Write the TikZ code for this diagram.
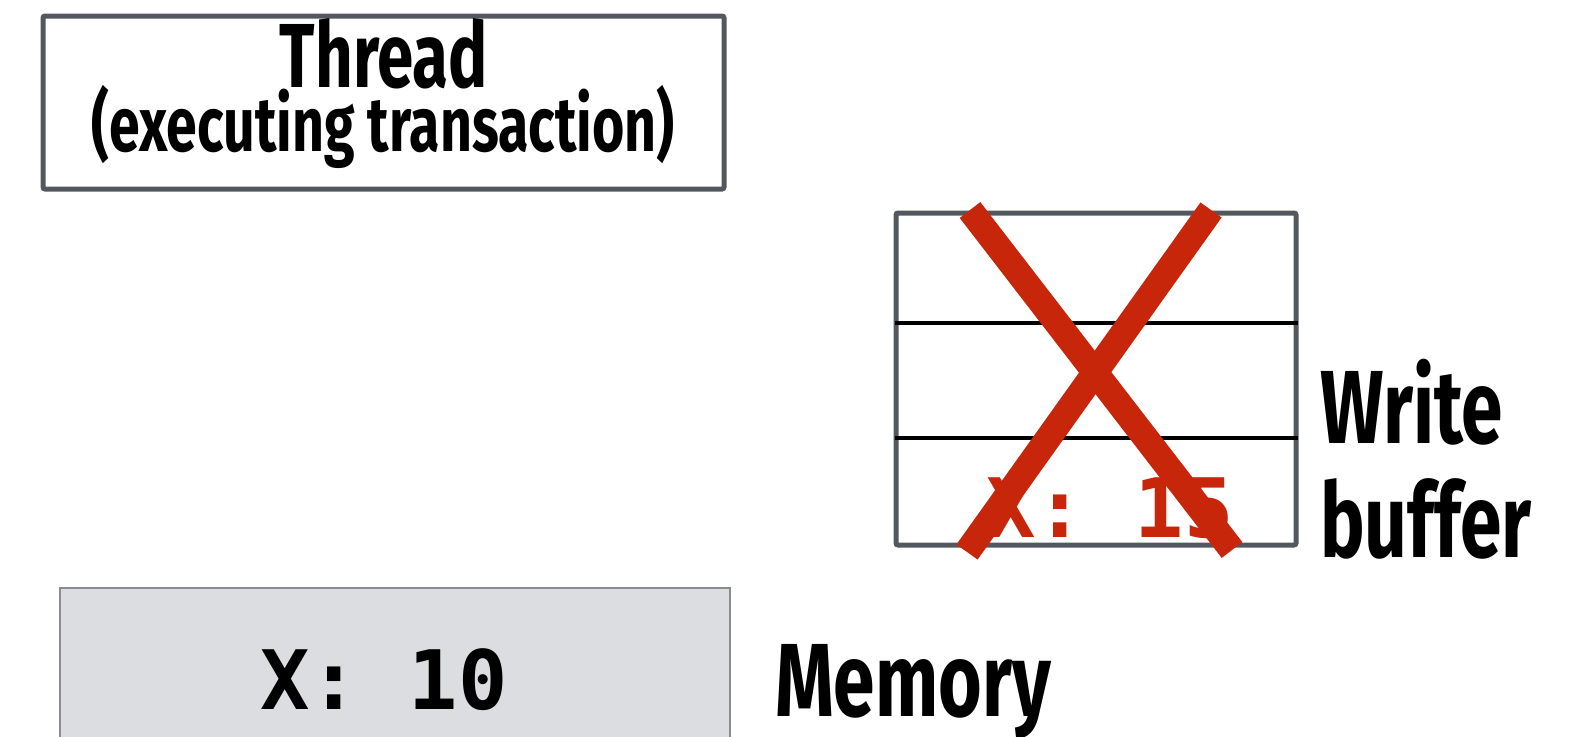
\documentclass[tikz,border=0pt]{standalone}
\usepackage{fontspec}
\newfontfamily\headfont{Fira Sans}[FakeStretch=0.72]
\newfontfamily\codefont{DejaVu Sans Mono}
\definecolor{boxgray}{HTML}{53575E}
\definecolor{memfill}{HTML}{DCDDE0}
\definecolor{memline}{HTML}{8A8C90}
\definecolor{crossred}{HTML}{C8260A}
\begin{document}
\begin{tikzpicture}[x=1pt,y=-1pt,
    every node/.style={inner sep=0pt,outer sep=0pt},
    label/.style={font=\headfont\bfseries\fontsize{104}{106}\selectfont},
    title/.style={font=\headfont\bfseries\fontsize{91}{92}\selectfont},
    sublabel/.style={font=\headfont\bfseries\fontsize{77}{80}\selectfont},
    code/.style={font=\codefont\bfseries\fontsize{82}{84}\selectfont},
    framebox/.style={draw=boxgray,line width=5pt,rounded corners=2pt},
    cross/.style={draw=crossred,line width=26pt}]
  \useasboundingbox (0,0) rectangle (1571,736);

  % Thread
  \node[framebox,minimum width=681,minimum height=173] (thread) at (383.5,102.5) {};
  \node[title,anchor=base] (head) at (384,87) {Thread};
  \node[sublabel,anchor=base] (sub) at (383,151) {(executing transaction)};

  % Write buffer
  \node[framebox,minimum width=400,minimum height=332] (buf) at (1096,379) {};
  \coordinate (r1w) at (895,323);  \coordinate (r1e) at (1298,323);
  \coordinate (r2w) at (895,438);  \coordinate (r2e) at (1298,438);
  \draw[line width=3.5pt] (r1w) -- (r1e);
  \draw[line width=3.5pt] (r2w) -- (r2e);
  \node[code,text=crossred,anchor=base] (val) at (1110,537) {X: 15};
  \coordinate (xa) at (970,210);  \coordinate (xb) at (1232,550);
  \coordinate (xc) at (1211,210); \coordinate (xd) at (967,552);
  \draw[cross] (xa) -- (xb);
  \draw[cross] (xc) -- (xd);
  \node[label,anchor=base west] (write) at (1320,443) {Write};
  \node[label,anchor=base west] (buffer) at (1320,557) {buffer};

  % Memory
  \node[draw=memline,fill=memfill,line width=1.5pt,minimum width=670,minimum height=170,anchor=north west] (mem) at (60,588) {};
  \node[code,anchor=base] (old) at (384,709) {X: 10};
  \node[label,anchor=base west] (memlabel) at (775,716) {Memory};
\end{tikzpicture}
\end{document}
